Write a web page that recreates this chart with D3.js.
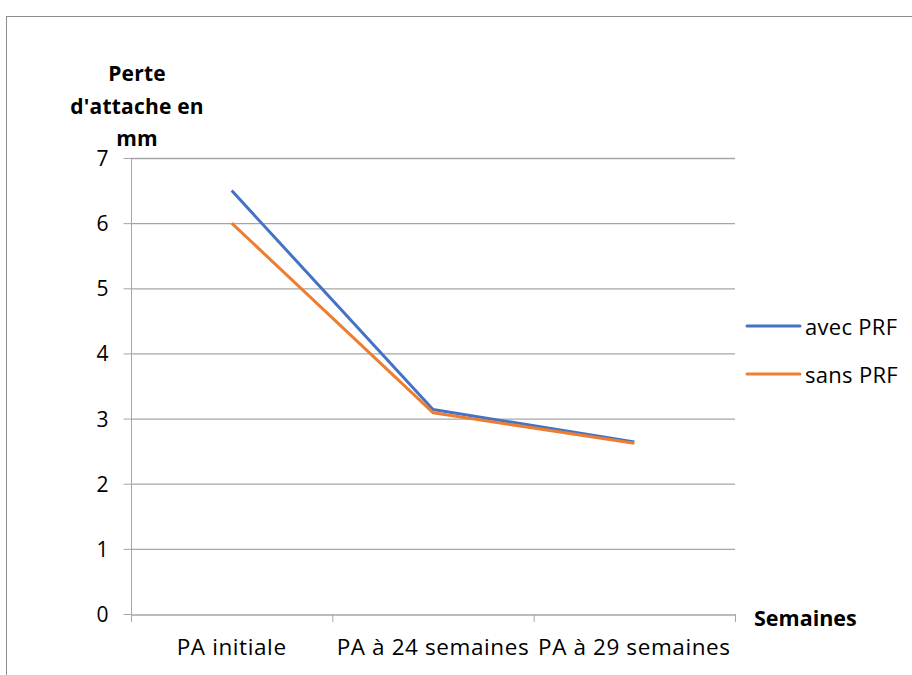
<!DOCTYPE html>
<html><head><meta charset="utf-8">
<script src="https://cdn.jsdelivr.net/npm/d3@7"></script>
<style>body{margin:0;background:#fff;} text{font-family:"Open Sans",sans-serif;}</style>
</head><body>
<svg id="c" width="912" height="675"></svg>
<script>
const categories = ["PA initiale", "PA à 24 semaines", "PA à 29 semaines"];
const avecPRF = [6.5, 3.14, 2.64];
const sansPRF = [6.0, 3.09, 2.62];
const yTicks = [0, 1, 2, 3, 4, 5, 6, 7];
const seriesNames = ["avec PRF", "sans PRF"];
const colors = ["#4472c4", "#ed7d31"];

const svg = d3.select("#c");
svg.append("rect").attr("x",6.5).attr("y",16.5).attr("width",1000).attr("height",1000)
  .attr("fill","#fff").attr("stroke","#8c8c8c").attr("stroke-width",1);

const x0 = 131, x1 = 735, y0 = 614, y1 = 158;
const x = d3.scaleBand().domain(categories).range([x0, x1]);
const y = d3.scaleLinear().domain([0, 7]).range([y0, y1]);
const FONT = "'Open Sans',sans-serif";

// gridlines
svg.append("g").selectAll("line").data(yTicks.filter(d=>d>0)).join("line")
  .attr("x1", x0).attr("x2", x1).attr("y1", d=>y(d)+0.5).attr("y2", d=>y(d)+0.5)
  .attr("stroke","#a6a6a6").attr("stroke-width",1.3);

// y axis
const ya = svg.append("g").attr("transform",`translate(${x0+0.5},0)`)
  .call(d3.axisLeft(y).tickValues(yTicks).tickSize(8).tickPadding(15).tickFormat(d3.format("d")));
ya.select(".domain").attr("stroke","#a6a6a6").attr("d",`M0,${y1}V${y0}`);
ya.selectAll(".tick line").attr("stroke","#a6a6a6");
ya.selectAll("text").attr("font-size",21).attr("fill","#000").attr("font-family",FONT).attr("dy","0.36em");

// x axis
const xa = svg.append("g").attr("transform",`translate(0,${y0+0.5})`)
  .call(d3.axisBottom(x).tickSize(0).tickPadding(25));
xa.select(".domain").attr("stroke","#a6a6a6").attr("stroke-width",1.3);
xa.selectAll("text").attr("font-size",22.5).attr("letter-spacing","0.6").attr("fill","#000").attr("font-family",FONT);
svg.append("g").selectAll("line").data([x0, ...categories.map(c=>x(c)+x.bandwidth())]).join("line")
  .attr("x1",d=>d+0.5).attr("x2",d=>d+0.5).attr("y1",y0).attr("y2",y0+8).attr("stroke","#a6a6a6");

// lines
const line = d3.line().x((d,i)=>x(categories[i])+x.bandwidth()/2).y(d=>y(d));
[avecPRF, sansPRF].forEach((s,i)=>{
  svg.append("path").datum(s).attr("d",line).attr("fill","none")
    .attr("stroke",colors[i]).attr("stroke-width",3).attr("stroke-linejoin","round");
});

// legend
seriesNames.forEach((n,i)=>{
  const ly = 326 + i*48;
  svg.append("line").attr("x1",747).attr("x2",800).attr("y1",ly).attr("y2",ly)
    .attr("stroke",colors[i]).attr("stroke-width",3).attr("stroke-linecap","round");
  svg.append("text").attr("x",805).attr("y",ly+9).attr("font-size",22).attr("letter-spacing","0.3").text(n);
});

// axis titles
const yt = ["Perte","d'attache en","mm"];
yt.forEach((t,i)=>{
  svg.append("text").attr("x",137).attr("y",81+i*32.5).attr("text-anchor","middle")
    .attr("font-size",21).attr("font-weight","bold").attr("letter-spacing","0.2").text(t);
});
svg.append("text").attr("x",754).attr("y",626).attr("font-size",21.5).attr("font-weight","bold").text("Semaines");
</script>
</body></html>
